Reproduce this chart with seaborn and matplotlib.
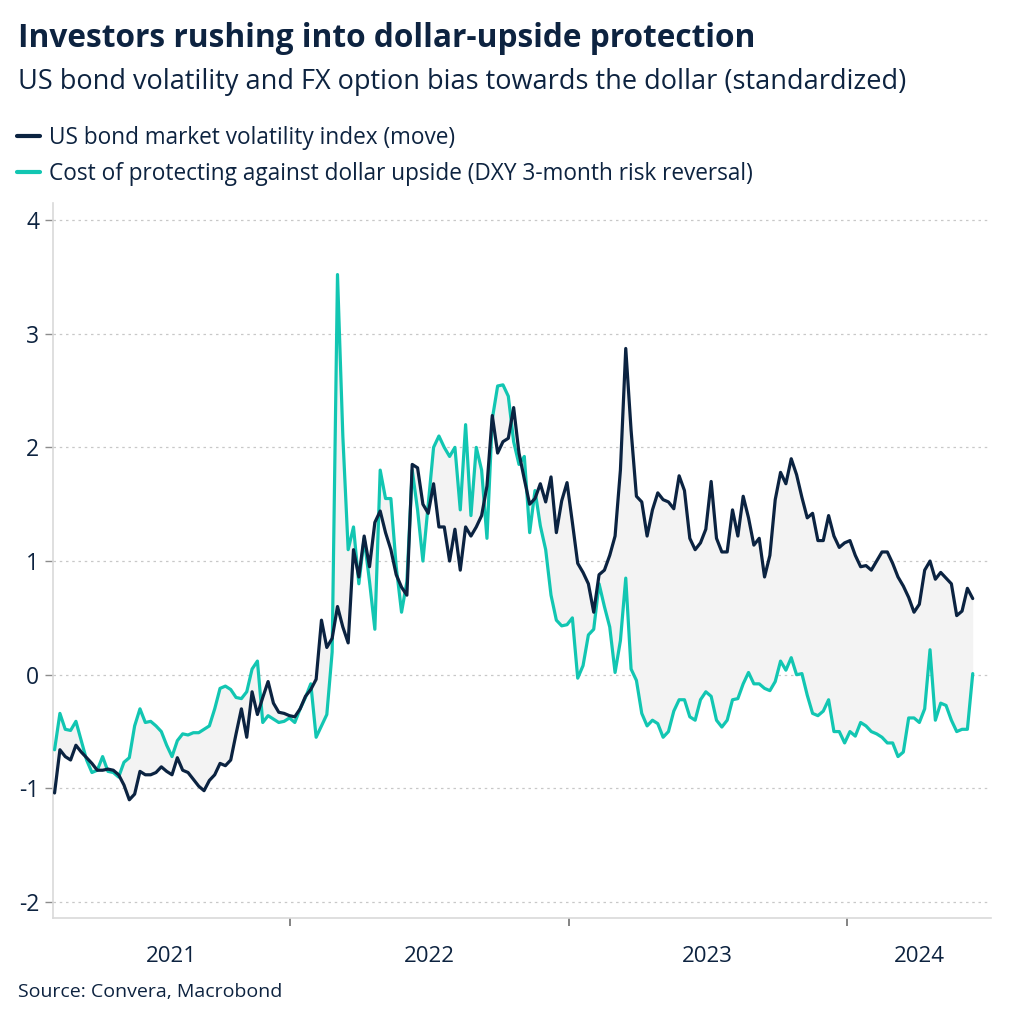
import numpy as np
import pandas as pd
import matplotlib
matplotlib.use("Agg")
import matplotlib.pyplot as plt
import matplotlib.dates as mdates
from matplotlib.ticker import FixedLocator, NullFormatter, FixedFormatter
from matplotlib.lines import Line2D
import seaborn as sns

# ---------------- data (weekly, standardized) ----------------
start_date = "2021-02-26"
n_weeks = 173

move_index = [
    -1.04, -0.66, -0.72, -0.75, -0.62, -0.68, -0.73, -0.78, -0.84, -0.84,
    -0.83, -0.84, -0.88, -0.97, -1.10, -1.05, -0.85, -0.88, -0.88, -0.86,
    -0.81, -0.85, -0.88, -0.73, -0.84, -0.86, -0.92, -0.98, -1.02, -0.93,
    -0.88, -0.78, -0.80, -0.75, -0.52, -0.30, -0.55, -0.15, -0.35, -0.20,
    -0.06, -0.25, -0.33, -0.34, -0.36, -0.37, -0.30, -0.19, -0.13, -0.04,
    0.48, 0.24, 0.32, 0.60, 0.42, 0.28, 1.10, 0.86, 1.22, 0.95,
    1.34, 1.44, 1.25, 1.10, 0.88, 0.77, 0.70, 1.85, 1.82, 1.50,
    1.42, 1.68, 1.30, 1.30, 1.00, 1.28, 0.92, 1.30, 1.22, 1.30,
    1.40, 1.66, 2.28, 1.95, 2.05, 2.08, 2.35, 1.95, 1.72, 1.50,
    1.55, 1.68, 1.52, 1.74, 1.25, 1.53, 1.69, 1.34, 0.98, 0.90,
    0.80, 0.55, 0.88, 0.92, 1.05, 1.22, 1.80, 2.87, 2.15, 1.57,
    1.52, 1.22, 1.45, 1.60, 1.54, 1.52, 1.46, 1.75, 1.62, 1.20,
    1.10, 1.16, 1.28, 1.70, 1.20, 1.08, 1.08, 1.45, 1.22, 1.57,
    1.38, 1.14, 1.20, 0.86, 1.05, 1.54, 1.78, 1.68, 1.90, 1.76,
    1.56, 1.38, 1.42, 1.18, 1.18, 1.40, 1.22, 1.12, 1.16, 1.18,
    1.05, 0.95, 0.96, 0.92, 1.00, 1.08, 1.08, 0.98, 0.86, 0.78,
    0.68, 0.55, 0.62, 0.92, 1.00, 0.84, 0.90, 0.85, 0.80, 0.52,
    0.56, 0.76, 0.67,
]

dxy_risk_reversal = [
    -0.66, -0.34, -0.48, -0.49, -0.41, -0.58, -0.75, -0.86, -0.84, -0.72,
    -0.85, -0.86, -0.90, -0.77, -0.73, -0.45, -0.30, -0.42, -0.41, -0.45,
    -0.50, -0.62, -0.72, -0.58, -0.52, -0.53, -0.51, -0.51, -0.48, -0.45,
    -0.30, -0.12, -0.10, -0.13, -0.20, -0.21, -0.15, 0.05, 0.12, -0.42,
    -0.36, -0.39, -0.42, -0.41, -0.38, -0.42, -0.30, -0.20, -0.08, -0.55,
    -0.45, -0.35, 0.20, 3.52, 2.10, 1.10, 1.30, 0.80, 1.20, 0.82,
    0.40, 1.80, 1.55, 1.55, 0.95, 0.55, 0.82, 1.80, 1.45, 1.00,
    1.50, 2.00, 2.10, 2.00, 1.92, 2.00, 1.45, 2.20, 1.40, 2.00,
    1.80, 1.20, 2.25, 2.54, 2.55, 2.45, 2.05, 1.85, 1.92, 1.25,
    1.62, 1.31, 1.10, 0.70, 0.48, 0.43, 0.44, 0.50, -0.03, 0.08,
    0.35, 0.40, 0.80, 0.60, 0.42, 0.02, 0.30, 0.85, 0.05, -0.05,
    -0.34, -0.45, -0.40, -0.43, -0.55, -0.50, -0.32, -0.22, -0.22, -0.37,
    -0.40, -0.22, -0.15, -0.19, -0.40, -0.46, -0.40, -0.22, -0.21, -0.08,
    0.02, -0.08, -0.08, -0.12, -0.14, -0.06, 0.12, 0.04, 0.15, 0.00,
    0.01, -0.18, -0.34, -0.36, -0.32, -0.22, -0.50, -0.50, -0.60, -0.50,
    -0.54, -0.42, -0.45, -0.50, -0.52, -0.55, -0.60, -0.60, -0.72, -0.68,
    -0.38, -0.38, -0.42, -0.30, 0.22, -0.40, -0.25, -0.27, -0.40, -0.50,
    -0.48, -0.48, 0.01,
]

series_names = [
    "US bond market volatility index (move)",
    "Cost of protecting against dollar upside (DXY 3-month risk reversal)",
]
year_labels = ["2021", "2022", "2023", "2024"]
y_ticks = [-2, -1, 0, 1, 2, 3, 4]

title = "Investors rushing into dollar-upside protection"
subtitle = "US bond volatility and FX option bias towards the dollar (standardized)"
source = "Source: Convera, Macrobond"

# ---------------- styling ----------------
NAVY = "#0b2341"
TEAL = "#12c6b2"
TEXT = "#0d2340"
FILL = "#f3f3f3"

sns.set_theme(style="white")
plt.rcParams["font.family"] = ["Open Sans", "DejaVu Sans"]
plt.rcParams["axes.unicode_minus"] = False

dates = pd.date_range(start_date, periods=n_weeks, freq="7D")
df = pd.DataFrame({
    "date": np.concatenate([dates, dates]),
    "value": np.concatenate([move_index, dxy_risk_reversal]),
    "series": [series_names[0]] * n_weeks + [series_names[1]] * n_weeks,
})

fig = plt.figure(figsize=(10.22, 10.24), dpi=100)
ax = fig.add_axes([0.0519, 0.1035, 0.9178, 0.6983])

ax.fill_between(dates, move_index, dxy_risk_reversal, color=FILL, linewidth=0, zorder=1)
sns.lineplot(data=df, x="date", y="value", hue="series",
             palette={series_names[0]: NAVY, series_names[1]: TEAL},
             hue_order=[series_names[1], series_names[0]],
             linewidth=2.3, ax=ax, legend=False, zorder=3)

ax.set_xlim(pd.Timestamp("2021-02-24"), pd.Timestamp("2024-07-08"))
ax.set_ylim(-2.14, 4.15)
ax.set_xlabel("")
ax.set_ylabel("")

# y axis
ax.set_yticks(y_ticks)
ax.set_yticklabels([str(t) for t in y_ticks])
ax.yaxis.grid(True, linestyle=(0, (2, 3)), color="#c8c8c8", linewidth=0.9)
ax.xaxis.grid(False)
ax.tick_params(axis="y", which="major", length=6, width=1, color="#8c8c8c",
               labelsize=16.5, labelcolor=TEXT, pad=4, left=True)

# x axis: ticks at year boundaries, labels centred in each year span
year_bounds = [pd.Timestamp(f"{y}-01-01") for y in (2022, 2023, 2024)]
xl = ax.get_xlim()
bnum = [mdates.date2num(b) for b in year_bounds]
edges = [xl[0]] + bnum + [xl[1]]
mids = [(edges[i] + edges[i + 1]) / 2 for i in range(len(edges) - 1)]
ax.xaxis.set_major_locator(FixedLocator(bnum))
ax.xaxis.set_major_formatter(NullFormatter())
ax.xaxis.set_minor_locator(FixedLocator(mids))
ax.xaxis.set_minor_formatter(FixedFormatter(year_labels))
ax.tick_params(axis="x", which="major", length=6, width=1.2, color="#6e6e6e",
               direction="out", bottom=True)
ax.tick_params(axis="x", which="minor", length=0, labelsize=16,
               labelcolor=TEXT, pad=20)

for s in ["top", "right"]:
    ax.spines[s].set_visible(False)
for s in ["left", "bottom"]:
    ax.spines[s].set_color("#d9d9d9")
    ax.spines[s].set_linewidth(1.2)

# titles
fig.text(0.0176, 0.962, title, fontsize=22.8, fontweight="bold", color=TEXT,
         ha="left", va="center")
fig.text(0.0176, 0.920, subtitle, fontsize=19.5, color=TEXT, ha="left", va="center")

# legend
handles = [Line2D([0], [0], color=NAVY, lw=3),
           Line2D([0], [0], color=TEAL, lw=3)]
fig.legend(handles, series_names, loc="upper left", bbox_to_anchor=(0.008, 0.886),
           frameon=False, fontsize=16.3, handlelength=1.0, handletextpad=0.4,
           labelspacing=0.55, labelcolor=TEXT, borderaxespad=0)

fig.text(0.0176, 0.031, source, fontsize=14, color=TEXT, ha="left", va="center")

fig.savefig("out.png", dpi=100, facecolor="white")
